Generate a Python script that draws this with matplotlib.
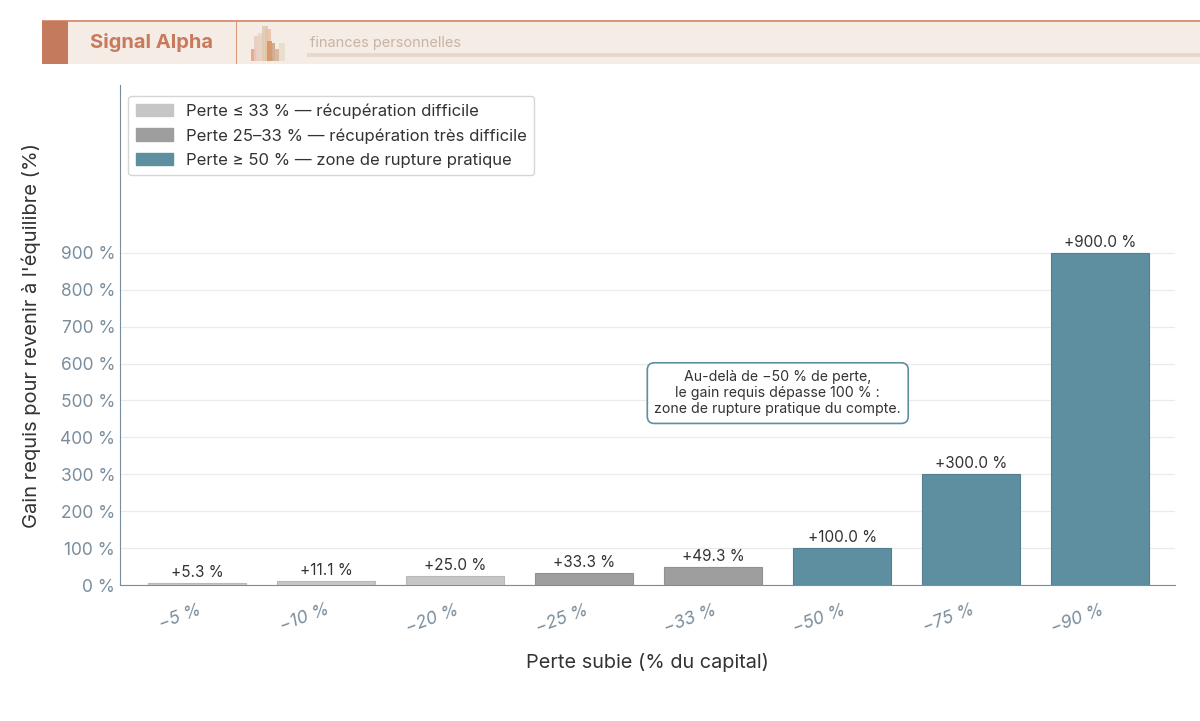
import matplotlib.pyplot as plt
from matplotlib.patches import Rectangle, Patch

plt.rcParams['font.family'] = ['Inter', 'DejaVu Sans']

# data
pertes = ['−5 %', '−10 %', '−20 %', '−25 %', '−33 %', '−50 %', '−75 %', '−90 %']
gains = [5.3, 11.1, 25.0, 33.3, 49.3, 100.0, 300.0, 900.0]
zones = ['diff', 'diff', 'diff', 'tres', 'tres', 'rupt', 'rupt', 'rupt']
yticks = [0, 100, 200, 300, 400, 500, 600, 700, 800, 900]

colors = {'diff': '#c6c6c6', 'tres': '#9e9e9e', 'rupt': '#5d8fa0'}
edges = {'diff': '#b8b8b8', 'tres': '#909090', 'rupt': '#527f8f'}
labels = {
    'diff': 'Perte ≤ 33 % — récupération difficile',
    'tres': 'Perte 25–33 % — récupération très difficile',
    'rupt': 'Perte ≥ 50 % — zone de rupture pratique',
}
slate = '#7a8d9c'

fig = plt.figure(figsize=(12, 7.21), dpi=100)

# header banner
fig.patches.append(Rectangle((42 / 1200, 1 - 64 / 721), 1158 / 1200, 43 / 721,
                             transform=fig.transFigure, facecolor='#f6ece6', edgecolor='none'))
fig.patches.append(Rectangle((42 / 1200, 1 - 22 / 721), 1158 / 1200, 2 / 721,
                             transform=fig.transFigure, facecolor='#d9967a', edgecolor='none'))
fig.patches.append(Rectangle((42 / 1200, 1 - 64 / 721), 26 / 1200, 43 / 721,
                             transform=fig.transFigure, facecolor='#c47a5c', edgecolor='none'))
fig.patches.append(Rectangle((236 / 1200, 1 - 64 / 721), 1.2 / 1200, 43 / 721,
                             transform=fig.transFigure, facecolor='#d9967a', edgecolor='none'))
fig.patches.append(Rectangle((307 / 1200, 1 - 57 / 721), 893 / 1200, 4 / 721,
                             transform=fig.transFigure, facecolor='#e6d8cc', edgecolor='none'))
# little bar icon
icon = [(251, 5, 12, '#e8a07a'), (254, 8, 25, '#ecc8c0'), (258, 6, 28, '#e6d6c4'),
        (262, 6, 35, '#ddc9b0'), (265, 6, 32, '#e8c0a8'), (267, 5, 20, '#e09050'),
        (270, 5, 18, '#c9a080'), (273, 6, 12, '#d8b090'), (279, 6, 18, '#e6dccc')]
for x0, w, h, c in icon:
    fig.patches.append(Rectangle((x0 / 1200, 1 - 61 / 721), w / 1200, h / 721,
                                 transform=fig.transFigure, facecolor=c, edgecolor='none', alpha=0.85))
fig.text(152 / 1200, 1 - 43 / 721, 'Signal Alpha', fontsize=14.5, fontweight='bold',
         color='#c87a5c', ha='center', va='center')
fig.text(310 / 1200, 1 - 43 / 721, 'finances personnelles', fontsize=10.5,
         color='#c8b4a4', ha='left', va='center')

ax = fig.add_axes([120 / 1200, 136 / 721, 1055 / 1200, 500 / 721])
x = list(range(len(pertes)))
bars = ax.bar(x, gains, width=0.76,
              color=[colors[z] for z in zones],
              edgecolor=[edges[z] for z in zones], linewidth=0.8, zorder=3)
for b, g in zip(bars, gains):
    ax.text(b.get_x() + b.get_width() / 2, g + 8, f'+{g:.1f} %', ha='center', va='bottom',
            fontsize=11, color='#333333', zorder=4)

ax.set_xlim(-0.6, 7.58)
ax.set_ylim(0, 1355)
ax.set_yticks(yticks)
ax.set_yticklabels([f'{v} %' for v in yticks])
ax.set_xticks(x)
ax.set_xticklabels(pertes, rotation=20, fontstyle='italic', ha='right', rotation_mode='anchor')
ax.tick_params(axis='both', colors=slate, labelsize=12.5, length=0)
ax.tick_params(axis='x', pad=12)
ax.grid(axis='y', color='#ebebeb', linewidth=0.9, zorder=0)
for s in ['top', 'right']:
    ax.spines[s].set_visible(False)
ax.spines['left'].set_color(slate)
ax.spines['bottom'].set_color(slate)

ax.set_ylabel("Gain requis pour revenir à l'équilibre (%)", fontsize=14.5, color='#333333', labelpad=14)
ax.set_xlabel('Perte subie (% du capital)', fontsize=14.3, color='#333333', labelpad=12)

handles = [Patch(facecolor=colors[k], edgecolor=colors[k], label=labels[k]) for k in ['diff', 'tres', 'rupt']]
ax.legend(handles=handles, loc='upper left', bbox_to_anchor=(0.0, 0.995), fontsize=12,
          frameon=True, edgecolor='#cccccc', fancybox=True, handlelength=2.2, handleheight=0.8,
          labelcolor='#333333', borderpad=0.45, labelspacing=0.55)

ax.text(4.5, 520, 'Au-delà de −50 % de perte,\nle gain requis dépasse 100 % :\nzone de rupture pratique du compte.',
        ha='center', va='center', fontsize=10.2, color='#333333', linespacing=1.2,
        bbox=dict(boxstyle='round,pad=0.5', facecolor='white', edgecolor='#5d8fa0', linewidth=1.2), zorder=5)

fig.savefig('out.png', dpi=100)
